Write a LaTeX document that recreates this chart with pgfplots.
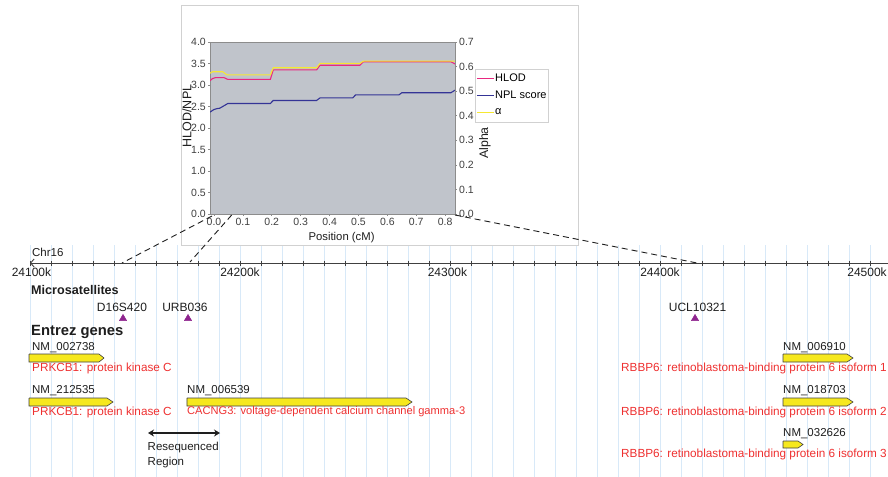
\documentclass[border=0pt]{standalone}
\usepackage{fontspec}
\setmainfont{Liberation Sans}
\usepackage{pgfplots}
\pgfplotsset{compat=1.18}
\usetikzlibrary{arrows.meta}
\definecolor{gridblue}{RGB}{216,233,248}
\definecolor{genered}{RGB}{238,48,48}
\definecolor{geneyellow}{RGB}{246,232,30}
\definecolor{msat}{RGB}{142,36,142}
\definecolor{plotbg}{RGB}{192,196,203}
\definecolor{hlod}{RGB}{232,40,128}
\definecolor{npl}{RGB}{52,52,150}
\definecolor{alph}{RGB}{246,232,50}
\definecolor{txt}{RGB}{30,30,30}
\newcommand{\fs}[1]{\fontsize{#1bp}{#1bp}\selectfont}
\pgfplotsset{
  track/.style={scale only axis, width=888bp, height=477bp,
    xmin=-14.2857, xmax=408.5714, ymin=0, ymax=477, y dir=reverse,
    at={(0bp,0bp)}, anchor=south west, clip=false, hide axis},
  inset/.style={at={(210bp,263bp)}, anchor=south west, scale only axis,
    width=245bp, height=172bp, xmin=-0.0138, xmax=0.834,
    tick align=outside, major tick length=2bp,
    axis line style={draw=black!45, line width=0.6bp},
    tick style={black!45, line width=0.6bp},
    ticklabel style={font=\fs{10.5}, text=txt!85, inner sep=2bp},
    /pgf/number format/fixed, /pgf/number format/fixed zerofill,
    /pgf/number format/precision=1, /pgf/number format/assume math mode=true},
}
\begin{document}
\begin{tikzpicture}
\useasboundingbox (0bp,0bp) rectangle (888bp,477bp);
% ---- vertical grid of the genome track
\begin{axis}[scale only axis, width=888bp, height=232bp,
  xmin=-14.2857, xmax=408.5714, ymin=0, ymax=1,
  at={(0bp,0bp)}, anchor=south west,
  axis line style={draw=none}, major tick length=0pt,
  xtick={0,10,20,30,40,50,60,70,80,90,100,110,120,130,140,150,160,170,180,190,200,210,220,230,240,250,260,270,280,290,300,310,320,330,340,350,360,370,380,390,400},
  xticklabels={}, ytick=\empty,
  xmajorgrids, grid style={gridblue, line width=0.8bp}]
\addplot[draw=none] coordinates {(0,0.5)};
\end{axis}
% ---- genome track
\begin{axis}[track]
\addplot[txt!85, line width=0.9bp, {Straight Barb[length=3.5bp,width=8bp]}-] coordinates {(0,263) (408.5714,263)};
\addplot[only marks, mark=|, mark size=2.5bp, mark options={line width=0.8bp}, txt!85] coordinates {
(0,263) (10,263) (20,263) (30,263) (40,263) (50,263) (60,263) (70,263) (80,263) (90,263)
(100,263) (110,263) (120,263) (130,263) (140,263) (150,263) (160,263) (170,263) (180,263) (190,263)
(200,263) (210,263) (220,263) (230,263) (240,263) (250,263) (260,263) (270,263) (280,263) (290,263)
(300,263) (310,263) (320,263) (330,263) (340,263) (350,263) (360,263) (370,263) (380,263) (390,263) (400,263)};
\node[anchor=west, inner sep=0, font=\fs{11.5}, text=txt] at (axis cs:0.95,252) {Chr16};
\node[inner sep=0, font=\fs{12}, text=txt] at (axis cs:0.7,272.5) {24100k};
\node[inner sep=0, font=\fs{12}, text=txt] at (axis cs:100,272.5) {24200k};
\node[inner sep=0, font=\fs{12}, text=txt] at (axis cs:198.8,272.5) {24300k};
\node[inner sep=0, font=\fs{12}, text=txt] at (axis cs:300,272.5) {24400k};
\node[inner sep=0, font=\fs{12}, text=txt] at (axis cs:398.6,272.5) {24500k};
% microsatellites
\node[anchor=west, inner sep=0, font=\bfseries\fs{12.6}, text=txt] at (axis cs:0.476,290) {Microsatellites};
\node[inner sep=0, font=\fs{12}, text=txt] at (axis cs:43.8,307) {D16S420};
\node[inner sep=0, font=\fs{12}, text=txt] at (axis cs:73.8,307) {URB036};
\node[inner sep=0, font=\fs{12}, text=txt] at (axis cs:317.9,307) {UCL10321};
\addplot[only marks, mark=triangle*, mark size=4.2bp, color=msat] coordinates {(44.29,318.5) (75.24,318.5) (316.67,318.5)};
% genes
\node[anchor=west, inner sep=0, font=\bfseries\fs{14.8}, text=txt] at (axis cs:0.476,331.5) {Entrez genes};
\addplot[draw=black!75, fill=geneyellow, line width=0.6bp] coordinates {(-0.476,354) (32.86,354) (35.24,358) (32.86,362) (-0.476,362) (-0.476,354)};
\addplot[draw=black!75, fill=geneyellow, line width=0.6bp] coordinates {(-0.476,398) (36.67,398) (39.52,402) (36.67,406) (-0.476,406) (-0.476,398)};
\addplot[draw=black!75, fill=geneyellow, line width=0.6bp] coordinates {(74.76,398) (179.05,398) (181.90,402) (179.05,406) (74.76,406) (74.76,398)};
\addplot[draw=black!75, fill=geneyellow, line width=0.6bp] coordinates {(358.57,354) (389.05,354) (391.90,358) (389.05,362) (358.57,362) (358.57,354)};
\addplot[draw=black!75, fill=geneyellow, line width=0.6bp] coordinates {(358.57,398) (389.05,398) (391.90,402) (389.05,406) (358.57,406) (358.57,398)};
\addplot[draw=black!75, fill=geneyellow, line width=0.6bp] coordinates {(358.57,441) (365.71,441) (368.10,444.5) (365.71,448) (358.57,448) (358.57,441)};
\node[anchor=west, inner sep=0, font=\fs{11.5}, text=txt] at (axis cs:0.95,347.5) {NM\_002738};
\node[anchor=west, inner sep=0, font=\fs{11.75}, text=genered] at (axis cs:0.95,368.5) {PRKCB1: protein kinase C};
\node[anchor=west, inner sep=0, font=\fs{11.5}, text=txt] at (axis cs:0.95,391) {NM\_212535};
\node[anchor=west, inner sep=0, font=\fs{11.75}, text=genered] at (axis cs:0.95,412) {PRKCB1: protein kinase C};
\node[anchor=west, inner sep=0, font=\fs{11.5}, text=txt] at (axis cs:74.76,391) {NM\_006539};
\node[anchor=west, inner sep=0, font=\fs{11.1}, text=genered] at (axis cs:74.76,412) {CACNG3: voltage-dependent calcium channel gamma-3};
\node[anchor=west, inner sep=0, font=\fs{11.5}, text=txt] at (axis cs:358.57,347.5) {NM\_006910};
\node[anchor=west, inner sep=0, font=\fs{11.75}, text=genered] at (axis cs:281.43,368.5) {RBBP6: retinoblastoma-binding protein 6 isoform 1};
\node[anchor=west, inner sep=0, font=\fs{11.5}, text=txt] at (axis cs:358.57,391) {NM\_018703};
\node[anchor=west, inner sep=0, font=\fs{11.75}, text=genered] at (axis cs:281.43,412) {RBBP6: retinoblastoma-binding protein 6 isoform 2};
\node[anchor=west, inner sep=0, font=\fs{11.5}, text=txt] at (axis cs:358.57,434) {NM\_032626};
\node[anchor=west, inner sep=0, font=\fs{11.75}, text=genered] at (axis cs:281.43,454.5) {RBBP6: retinoblastoma-binding protein 6 isoform 3};
% resequenced region
\addplot[txt, line width=1.6bp, {Stealth[length=6bp,width=7bp]}-{Stealth[length=6bp,width=7bp]}] coordinates {(56.19,433) (90.48,433)};
\node[anchor=west, inner sep=0, font=\fs{11.5}, text=txt] at (axis cs:55.95,448) {Resequenced};
\node[anchor=west, inner sep=0, font=\fs{11.5}, text=txt] at (axis cs:55.95,463) {Region};
\end{axis}
% ---- inset frame
\draw[draw=black!18, fill=white, line width=0.8bp] (181bp,232bp) rectangle (578bp,472bp);
% ---- inset: left axis (alpha series given in its own 0-0.7 units, rescaled to the left axis)
\begin{axis}[inset, ymin=0, ymax=4,
  xtick={0,0.1,0.2,0.3,0.4,0.5,0.6,0.7,0.8},
  ytick={0,0.5,1,1.5,2,2.5,3,3.5,4},
  xtick pos=left, ytick pos=left,
  axis background/.style={fill=plotbg},
  xlabel={Position (cM)}, ylabel={HLOD/NPL},
  every axis x label/.style={at={(axis description cs:0.537,-0.137)}, anchor=center, font=\fs{11.3}, text=txt},
  every axis y label/.style={at={(axis description cs:-0.094,0.57)}, anchor=center, rotate=90, font=\fs{12.5}, text=txt},
  legend style={at={(axis description cs:1.082,0.843)}, anchor=north west, draw=black!18, fill=white,
    font=\fs{11}, inner sep=1bp, nodes={inner sep=0.8bp, minimum height=17bp}},
  legend cell align=left,
  legend image code/.code={\draw[#1] plot coordinates {(0bp,0bp) (8.5bp,0bp) (17bp,0bp)};}]
\addplot[color=hlod, line width=1.1bp] coordinates {(-0.0138,3.10) (-0.005,3.15) (0.005,3.17) (0.035,3.17) (0.048,3.13) (0.195,3.13) (0.205,3.35) (0.355,3.35) (0.367,3.46) (0.505,3.46) (0.517,3.54) (0.820,3.54) (0.834,3.49)};
\addlegendentry{HLOD}
\addplot[color=npl, line width=1.1bp] coordinates {(-0.0138,2.37) (0.0,2.43) (0.01,2.45) (0.02,2.46) (0.048,2.57) (0.195,2.57) (0.205,2.64) (0.355,2.64) (0.367,2.70) (0.48,2.70) (0.49,2.77) (0.64,2.77) (0.65,2.82) (0.82,2.82) (0.834,2.88)};
\addlegendentry{NPL score}
\addplot[color=alph, line width=1.1bp, y filter/.expression={y*4/0.7}] coordinates {(-0.0138,0.573) (-0.005,0.579) (0.03,0.579) (0.045,0.566) (0.195,0.566) (0.205,0.595) (0.355,0.595) (0.367,0.613) (0.505,0.613) (0.517,0.622) (0.834,0.622)};
\addlegendentry{α}
\end{axis}
% ---- inset: right axis
\begin{axis}[inset, ymin=0, ymax=0.7,
  axis x line=none, axis y line*=right,
  ytick={0,0.1,0.2,0.3,0.4,0.5,0.6,0.7},
  ylabel={Alpha},
  every axis y label/.style={at={(axis description cs:1.122,0.413)}, anchor=center, rotate=90, font=\fs{12.3}, text=txt}]
\addplot[draw=none] coordinates {(0,0)};
\end{axis}
% ---- zoom connector lines
\begin{axis}[track]
\addplot[txt, dash pattern=on 6bp off 4bp, line width=0.9bp] coordinates {(86.67,216) (43.81,263)};
\addplot[txt, dash pattern=on 6bp off 4bp, line width=0.9bp] coordinates {(96.05,215) (76.19,262)};
\addplot[txt, dash pattern=on 6bp off 4bp, line width=0.9bp] coordinates {(202.38,215) (317.62,263)};
\end{axis}
\end{tikzpicture}
\end{document}
